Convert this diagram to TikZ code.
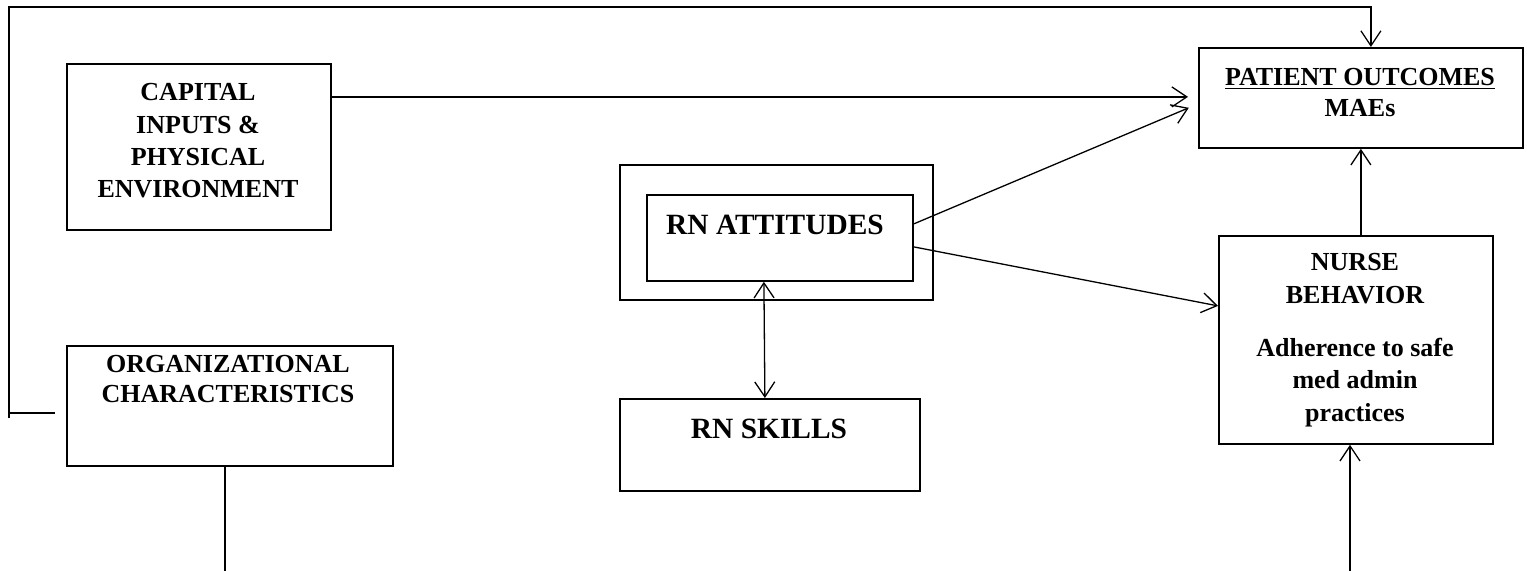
\documentclass[tikz,border=0pt]{standalone}
\usepackage{fontspec}
\setmainfont{Liberation Serif}
\usetikzlibrary{arrows.meta}
\begin{document}
\begin{tikzpicture}[x=0.5pt,y=-0.5pt,
  box/.style={draw, line width=0.9pt, inner sep=0pt, anchor=north west},
  txt/.style={font=\bfseries\fontsize{13}{16.2}\selectfont, align=center, inner sep=0pt, anchor=north},
  bigtxt/.style={font=\bfseries\fontsize{14.7}{17}\selectfont, inner sep=0pt, anchor=base},
  conn/.style={line width=0.65pt},
  arr/.style={conn, -{Straight Barb[length=7.5pt,width=10pt,line width=0.65pt]}},
  dblarr/.style={conn, {Straight Barb[length=7.5pt,width=10pt,line width=0.65pt]}-{Straight Barb[length=7.5pt,width=10pt,line width=0.65pt]}},
]
\useasboundingbox (0,0) rectangle (1527,571);

% boxes
\node[box, minimum width=132pt, minimum height=83pt] (cap) at (66,63) {};
\node[box, minimum width=163pt, minimum height=60pt] (org) at (66,345) {};
\node[box, minimum width=156.5pt, minimum height=67.5pt] (outer) at (619,164) {};
\node[box, minimum width=133pt, minimum height=43pt] (att) at (646,194) {};
\node[box, minimum width=150pt, minimum height=46pt] (skl) at (619,398) {};
\node[box, minimum width=162pt, minimum height=50pt] (po) at (1198,47) {};
\node[box, minimum width=137pt, minimum height=104pt] (nb) at (1218,235) {};

% texts
\node[txt] (captxt) at (198,83) {CAPITAL\\INPUTS \&\\PHYSICAL\\ENVIRONMENT};
\node[txt, font=\bfseries\fontsize{13}{15}\selectfont] (orgtxt) at (228,355) {ORGANIZATIONAL\\CHARACTERISTICS};
\node[bigtxt] (atttxt) at (775,235) {RN ATTITUDES};
\node[bigtxt] (skltxt) at (769,439) {RN SKILLS};
\node[txt, font=\bfseries\fontsize{13}{15.5}\selectfont] (potxt) at (1360,68) {\underline{PATIENT OUTCOMES}\\MAEs};
\node[txt] (nbtxt) at (1355,253) {NURSE\\BEHAVIOR\\[10.5pt]Adherence to safe\\med admin\\practices};

% free ends
\coordinate (fbA) at (55,413);
\coordinate (fbL) at (9,413);
\coordinate (fbB) at (9,418);
\coordinate (fbTL) at (9,7);
\coordinate (orgEnd) at (225,571);
\coordinate (nbIn) at (1350,571);

% connectors
\draw[arr, shorten >=5pt] ([yshift=25pt]cap.east) -- ([yshift=25pt]cap.east -| po.west);
\draw[arr, shorten >=5pt] ([yshift=7pt]att.east) -- ([yshift=-3pt]po.west);
\draw[arr] ([yshift=-4.5pt]att.east) -- ([yshift=17pt]nb.west);
\draw[dblarr] ([xshift=-8pt]att.south) -- ([xshift=-2.5pt]skl.north);
\draw[arr] ([xshift=2.5pt]nb.north) -- ([xshift=2.5pt]nb.north |- po.south);
\draw[arr] (nbIn) -- (nbIn |- nb.south);
\draw[conn] (orgEnd |- org.south) -- (orgEnd);
\draw[conn] (fbA) -- (fbL);
\draw[arr] (fbB) -- (fbTL) -| ([xshift=5pt]po.north);
\end{tikzpicture}
\end{document}
